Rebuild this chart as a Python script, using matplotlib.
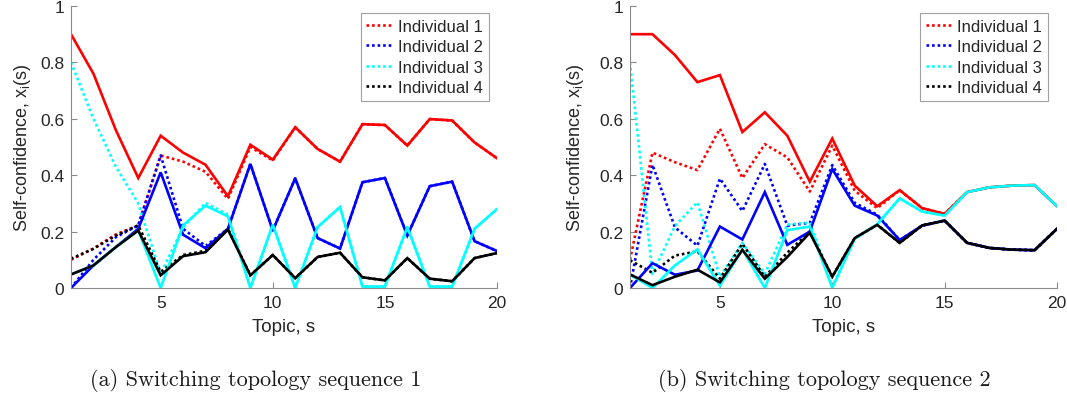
import matplotlib
matplotlib.use("Agg")
import matplotlib.pyplot as plt
from matplotlib.ticker import FixedLocator, FixedFormatter

plt.rcParams['font.family'] = ['Liberation Sans', 'DejaVu Sans']
plt.rcParams['mathtext.default'] = 'regular'

topics = list(range(1, 21))
x_ticks = [5, 10, 15, 20]
y_ticks = [0, 0.2, 0.4, 0.6, 0.8, 1]
y_tick_labels = ["0", "0.2", "0.4", "0.6", "0.8", "1"]
legend_labels = ["Individual 1", "Individual 2", "Individual 3", "Individual 4"]
captions = ["(a) Switching topology sequence 1", "(b) Switching topology sequence 2"]

# ---- Sequence 1 ----
s1_ind1_solid = [0.90, 0.76, 0.56, 0.39, 0.54, 0.48, 0.437, 0.325, 0.508, 0.455,
                 0.57, 0.493, 0.448, 0.581, 0.578, 0.505, 0.599, 0.594, 0.516, 0.46]
s1_ind1_dotted = [0.10, 0.14, 0.19, 0.222, 0.47, 0.448, 0.412, 0.316, 0.50, 0.452,
                  0.57, 0.493, 0.448, 0.581, 0.578, 0.505, 0.599, 0.594, 0.516, 0.46]
s1_ind2_solid = [0.0, 0.08, 0.145, 0.21, 0.41, 0.189, 0.141, 0.21, 0.44, 0.204,
                 0.389, 0.177, 0.14, 0.375, 0.39, 0.186, 0.361, 0.377, 0.166, 0.131]
s1_ind2_dotted = [0.0, 0.10, 0.18, 0.222, 0.47, 0.21, 0.149, 0.21, 0.44, 0.204,
                  0.389, 0.177, 0.14, 0.375, 0.39, 0.186, 0.361, 0.377, 0.166, 0.131]
s1_ind3_solid = [0.048, 0.08, 0.145, 0.204, 0.0, 0.222, 0.292, 0.254, 0.0, 0.225,
                 0.0, 0.216, 0.287, 0.005, 0.005, 0.216, 0.005, 0.005, 0.21, 0.28]
s1_ind3_dotted = [0.80, 0.60, 0.43, 0.30, 0.05, 0.215, 0.302, 0.26, 0.0, 0.225,
                  0.0, 0.216, 0.287, 0.005, 0.005, 0.216, 0.005, 0.005, 0.21, 0.28]
s1_ind4_solid = [0.048, 0.08, 0.145, 0.204, 0.045, 0.113, 0.127, 0.207, 0.045, 0.117,
                 0.035, 0.11, 0.125, 0.038, 0.027, 0.106, 0.033, 0.024, 0.106, 0.124]
s1_ind4_dotted = [0.104, 0.139, 0.186, 0.222, 0.057, 0.117, 0.132, 0.21, 0.045, 0.117,
                  0.035, 0.11, 0.125, 0.038, 0.027, 0.106, 0.033, 0.024, 0.106, 0.124]

# ---- Sequence 2 ----
s2_ind1_solid = [0.90, 0.90, 0.826, 0.73, 0.755, 0.553, 0.623, 0.54, 0.377, 0.53,
                 0.363, 0.29, 0.347, 0.283, 0.263, 0.34, 0.357, 0.363, 0.365, 0.29]
s2_ind1_dotted = [0.10, 0.48, 0.446, 0.418, 0.565, 0.39, 0.51, 0.463, 0.342, 0.505,
                  0.345, 0.283, 0.347, 0.283, 0.263, 0.34, 0.357, 0.363, 0.365, 0.29]
s2_ind2_solid = [0.0, 0.088, 0.047, 0.062, 0.218, 0.172, 0.34, 0.153, 0.20, 0.422,
                 0.292, 0.257, 0.17, 0.221, 0.239, 0.16, 0.142, 0.136, 0.134, 0.21]
s2_ind2_dotted = [0.0, 0.437, 0.215, 0.15, 0.388, 0.273, 0.44, 0.221, 0.231, 0.436,
                  0.302, 0.26, 0.17, 0.221, 0.239, 0.16, 0.142, 0.136, 0.134, 0.21]
s2_ind3_solid = [0.048, 0.0, 0.08, 0.137, 0.008, 0.137, 0.0, 0.205, 0.218, 0.0,
                 0.175, 0.226, 0.318, 0.271, 0.257, 0.34, 0.357, 0.363, 0.365, 0.29]
s2_ind3_dotted = [0.80, 0.05, 0.22, 0.304, 0.04, 0.16, 0.05, 0.225, 0.232, 0.005,
                  0.175, 0.226, 0.318, 0.271, 0.257, 0.34, 0.357, 0.363, 0.365, 0.29]
s2_ind4_solid = [0.048, 0.01, 0.04, 0.065, 0.02, 0.135, 0.033, 0.11, 0.196, 0.04,
                 0.177, 0.224, 0.16, 0.222, 0.239, 0.16, 0.142, 0.136, 0.134, 0.21]
s2_ind4_dotted = [0.098, 0.054, 0.115, 0.13, 0.033, 0.157, 0.04, 0.125, 0.20, 0.04,
                  0.177, 0.224, 0.16, 0.222, 0.239, 0.16, 0.142, 0.136, 0.134, 0.21]

colors = ['#ff0000', '#0000ff', '#00ffff', '#000000']
spine_color = '#8a8a8a'
text_color = '#262626'

W, H = 1067, 402
fig = plt.figure(figsize=(W / 100, H / 100), dpi=100)

panels = [
    dict(rect=[71, 7, 426, 282],
         solid=[s1_ind1_solid, s1_ind2_solid, s1_ind3_solid, s1_ind4_solid],
         dotted=[s1_ind1_dotted, s1_ind2_dotted, s1_ind3_dotted, s1_ind4_dotted],
         ylab_x=33, leg=(489, 14), cap_x=256),
    dict(rect=[630, 7, 427, 282],
         solid=[s2_ind1_solid, s2_ind2_solid, s2_ind3_solid, s2_ind4_solid],
         dotted=[s2_ind1_dotted, s2_ind2_dotted, s2_ind3_dotted, s2_ind4_dotted],
         ylab_x=586, leg=(1048, 14), cap_x=824),
]

for i, p in enumerate(panels):
    l, t, w, h = p['rect']
    ax = fig.add_axes([l / W, 1 - (t + h) / H, w / W, h / H])
    handles = []
    for ys, c in zip(p['dotted'], colors):
        ln, = ax.plot(topics, ys, color=c, lw=1.9, linestyle=(0, (1, 1.1)),
                      dash_capstyle='butt')
        handles.append(ln)
    for ys, c in zip(p['solid'], colors):
        ax.plot(topics, ys, color=c, lw=1.9, solid_joinstyle='miter')
    ax.set_xlim(1, 20)
    ax.set_ylim(0, 1)
    ax.xaxis.set_major_locator(FixedLocator(x_ticks))
    ax.yaxis.set_major_locator(FixedLocator(y_ticks))
    ax.yaxis.set_major_formatter(FixedFormatter(y_tick_labels))
    for s in ['top', 'right']:
        ax.spines[s].set_visible(False)
    for s in ['left', 'bottom']:
        ax.spines[s].set_color(spine_color)
        ax.spines[s].set_linewidth(0.8)
    ax.tick_params(direction='in', length=4, width=0.8, color=spine_color,
                   labelcolor=text_color, labelsize=12.5, pad=5)
    ax.set_xlabel('Topic, s', fontsize=13.5, color=text_color)
    ax.xaxis.set_label_coords(0.5, (289 - 319) / h)
    ax.set_ylabel('Self-confidence, x$_{i}$(s)', fontsize=13, color=text_color)
    ax.yaxis.set_label_coords((p['ylab_x'] - l) / w, 0.5)
    lx, ly = p['leg']
    leg = ax.legend(handles, legend_labels, loc='upper right',
                    bbox_to_anchor=((lx - l) / w, (t + h - ly) / h),
                    borderaxespad=0, fontsize=12, frameon=True, fancybox=False,
                    handlelength=1.5, handletextpad=0.4, labelspacing=0.32,
                    borderpad=0.35)
    leg.get_frame().set_edgecolor(spine_color)
    leg.get_frame().set_linewidth(0.8)
    for txt in leg.get_texts():
        txt.set_color(text_color)
    fig.text(p['cap_x'] / W, 1 - 381 / H, captions[i], ha='center', va='center',
             fontsize=16, family='cmr10', color='#1a1a1a')

fig.savefig('out.png', dpi=100)
